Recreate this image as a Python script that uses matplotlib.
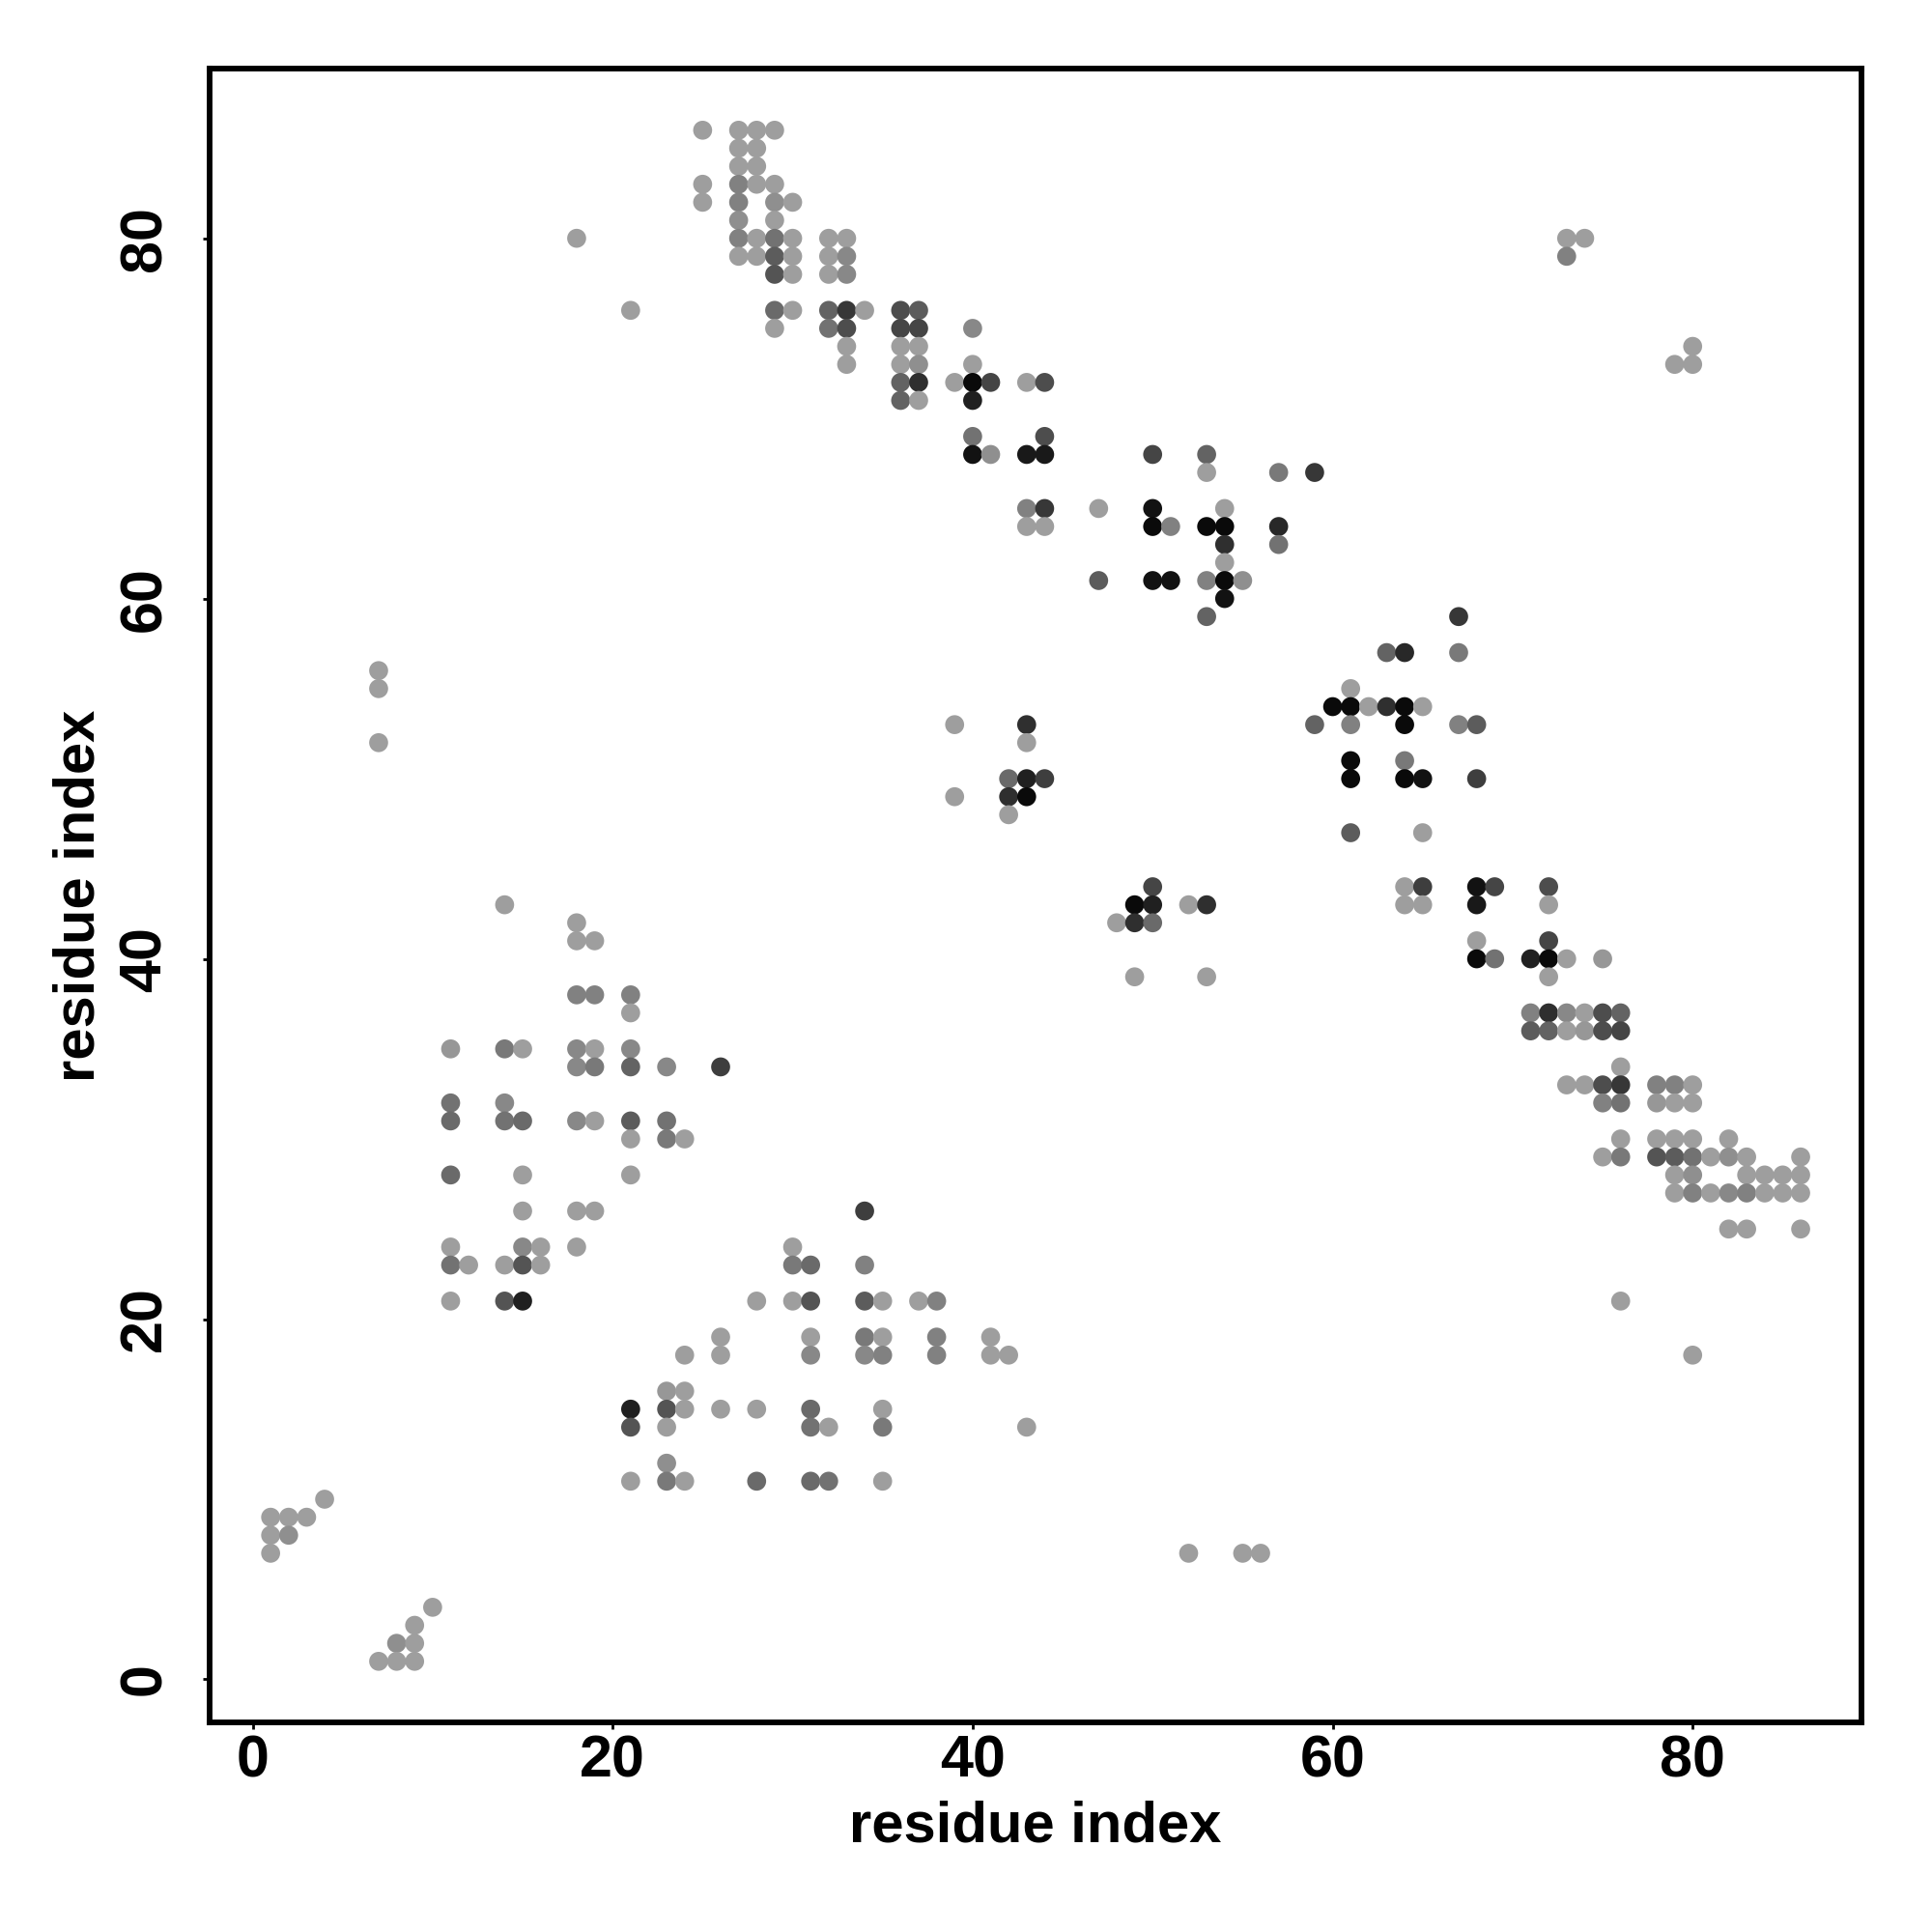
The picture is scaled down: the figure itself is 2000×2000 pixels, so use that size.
import matplotlib
matplotlib.use("Agg")
import matplotlib.pyplot as plt
import numpy as np

# contact map: one row per residue index on y, x positions and contact strength (0 light .. 1 black)
row_y = [86, 85, 84, 83, 82, 81, 80, 79, 78, 76, 75, 74, 73, 72, 71, 69, 68, 67, 65, 64,
         63, 62, 61, 60, 59, 57, 56, 55, 54, 53, 52, 51, 50, 49, 48, 47, 44, 43, 42, 41,
         40, 39, 38, 37, 36, 35, 34, 33, 32, 31, 30, 29, 28, 27, 26, 25, 24, 23, 21, 19,
         18, 16, 15, 14, 12, 11, 10, 9, 8, 7, 4, 3, 2, 1]

row_x = [
    [25, 27, 28, 29],
    [27, 28],
    [27, 28],
    [25, 27, 28, 29],
    [25, 27, 29, 30],
    [27, 29],
    [18, 27, 28, 29, 30, 32, 33, 73, 74],
    [27, 28, 29, 30, 32, 33, 73],
    [29, 30, 32, 33],
    [21, 29, 30, 32, 33, 34, 36, 37],
    [29, 32, 33, 36, 37, 40],
    [33, 36, 37, 80],
    [33, 36, 37, 40, 79, 80],
    [36, 37, 39, 40, 41, 43, 44],
    [36, 37, 40],
    [40, 44],
    [40, 41, 43, 44, 50, 53],
    [53, 57, 59],
    [43, 44, 47, 50, 54],
    [43, 44, 50, 51, 53, 54, 57],
    [54, 57],
    [54],
    [47, 50, 51, 53, 54, 55],
    [54],
    [53, 67],
    [63, 64, 67],
    [7],
    [7, 61],
    [60, 61, 62, 63, 64, 65],
    [39, 43, 59, 61, 64, 67, 68],
    [7, 43],
    [61, 64],
    [42, 43, 44, 61, 64, 65, 68],
    [39, 42, 43],
    [42],
    [61, 65],
    [50, 64, 65, 68, 69, 72],
    [14, 49, 50, 52, 53, 64, 65, 68, 72],
    [18, 48, 49, 50],
    [18, 19, 68, 72],
    [68, 69, 71, 72, 73, 75],
    [49, 53, 72],
    [18, 19, 21],
    [21, 71, 72, 73, 74, 75, 76],
    [71, 72, 73, 74, 75, 76],
    [11, 14, 15, 18, 19, 21],
    [18, 19, 21, 23, 26, 76],
    [73, 74, 75, 76, 78, 79, 80],
    [11, 14, 75, 76, 78, 79, 80],
    [11, 14, 15, 18, 19, 21, 23],
    [21, 23, 24, 76, 78, 79, 80, 82],
    [75, 76, 78, 79, 80, 81, 82, 83, 86],
    [11, 15, 21, 79, 80, 83, 84, 85, 86],
    [79, 80, 81, 82, 83, 84, 85, 86],
    [15, 18, 19, 34],
    [82, 83, 86],
    [11, 15, 16, 18, 30],
    [11, 12, 14, 15, 16, 30, 31, 34],
    [11, 14, 15, 28, 30, 31, 34, 35, 37, 38, 76],
    [26, 31, 34, 35, 38, 41],
    [24, 26, 31, 34, 35, 38, 41, 42, 80],
    [23, 24],
    [21, 23, 24, 26, 28, 31, 35],
    [21, 23, 31, 32, 35, 43],
    [23],
    [21, 23, 24, 28, 31, 32, 35],
    [4],
    [1, 2, 3],
    [1, 2],
    [1, 52, 55, 56],
    [10],
    [9],
    [8, 9],
    [7, 8, 9],
]

row_p = [
    [0, 0, 0, 0],
    [0, 0],
    [0, 0],
    [0, .2, 0, 0],
    [0, .2, .1, 0],
    [.1, 0],
    [0, .2, 0, .3, 0, 0, 0, 0, 0],
    [0, 0, .45, 0, 0, .15, .2],
    [.5, 0, 0, .15],
    [0, .35, 0, .4, .7, 0, .55, .45],
    [0, .3, .55, .6, .6, .15],
    [0, 0, 0, 0],
    [0, 0, .1, 0, 0, 0],
    [.4, .75, 0, 1, .6, 0, .55],
    [.4, 0, .85],
    [.3, .55],
    [.95, .1, .9, .9, .6, .4],
    [0, .25, .7],
    [.2, .7, 0, .95, 0],
    [0, 0, 1, .2, 1, 1, .8],
    [.75, .3],
    [0],
    [.45, .95, .95, .2, 1, .1],
    [.95],
    [.4, .7],
    [.4, .8, .25],
    [0],
    [0, 0],
    [1, 1, 0, .75, 1, 0],
    [0, .75, .4, .2, 1, .2, .45],
    [0, 0],
    [1, .25],
    [.35, .85, .65, 1, 1, .95, .65],
    [0, .75, 1],
    [0],
    [.45, 0],
    [.6, 0, .65, .95, .6, .55],
    [0, 1, .85, 0, .75, 0, 0, .9, 0],
    [0, 0, .75, .35],
    [0, 0, 0, .6],
    [1, .3, .85, 1, 0, .05],
    [0, 0, 0],
    [.2, .2, .2],
    [0, .2, .75, .15, 0, .55, .4],
    [.45, .4, 0, .05, .55, .6],
    [.05, .25, 0, .15, 0, .15],
    [.15, .25, .4, .15, .65, 0],
    [0, 0, .55, .7, .2, .2, 0],
    [.3, .15, .2, .3, .05, 0, 0],
    [.35, .3, .35, .15, 0, .45, .3],
    [0, .25, 0, 0, 0, 0, 0, 0],
    [0, .25, .5, .45, .3, 0, .1, 0, 0],
    [.35, 0, 0, 0, .1, 0, 0, 0, 0],
    [0, .2, 0, .15, .2, 0, 0, 0],
    [0, 0, 0, .65],
    [0, 0, 0],
    [0, .15, 0, 0, 0],
    [.3, 0, 0, .5, 0, .25, .35, .2],
    [0, .5, .85, 0, 0, .5, .45, 0, 0, .2, 0],
    [0, 0, .25, 0, .2, 0],
    [0, 0, .15, .15, .2, .2, 0, 0, 0],
    [.05, 0],
    [.85, .5, 0, 0, 0, .35, 0],
    [.5, 0, .3, 0, .25, 0],
    [.1],
    [0, .25, 0, .35, .35, .3, 0],
    [0],
    [0, 0, 0],
    [0, .1],
    [0, 0, 0, 0],
    [0],
    [0],
    [.1, 0],
    [0, 0, 0],
]

xs, ys, ps = [], [], []
for y, xr, pr in zip(row_y, row_x, row_p):
    for x, p in zip(xr, pr):
        xs.append(x)
        ys.append(y)
        ps.append(p)
xs = np.array(xs)
ys = np.array(ys)
ps = np.array(ps)

grey = 0.62 - 0.58 * ps
colors = [(g, g, g) for g in grey]

plt.rcParams['font.family'] = ['Liberation Sans', 'DejaVu Sans']
plt.rcParams['font.weight'] = 'bold'

fig = plt.figure(figsize=(10, 10), dpi=200)
ax = fig.add_axes([0.1084, 0.1084, 0.8553, 0.8559])

ax.scatter(xs, ys, s=50, c=colors, linewidths=0)

ax.set_xlim(-2.4, 89.4)
ax.set_ylim(-2.4, 89.4)
ax.set_xticks([0, 20, 40, 60, 80])
ax.set_yticks([0, 20, 40, 60, 80])
for sp in ax.spines.values():
    sp.set_linewidth(2.1)
ax.tick_params(direction='out', length=2.5, width=1.0, labelsize=22)
ax.tick_params(axis='x', pad=2)
ax.tick_params(axis='y', pad=11)
for lab in ax.get_xticklabels():
    lab.set_fontweight('bold')
for lab in ax.get_yticklabels():
    lab.set_fontweight('bold')
    lab.set_rotation(90)
    lab.set_va('center')

ax.set_xlabel("residue index", fontsize=21.5, fontweight='bold', labelpad=4)
ax.set_ylabel("residue index", fontsize=21.5, fontweight='bold', labelpad=4.5)

fig.savefig("out.png", dpi=200, facecolor='white')
